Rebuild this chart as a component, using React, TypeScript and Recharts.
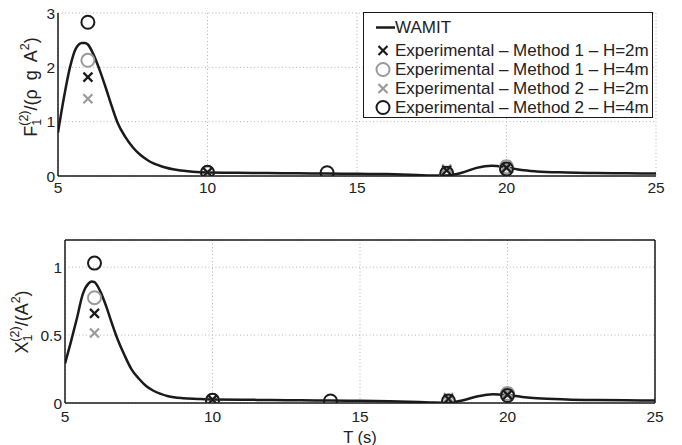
import { ComposedChart, Line, Scatter, XAxis, YAxis, CartesianGrid, ReferenceLine } from 'recharts';

// WAMIT curve, period T (s)
const wamitT = [5, 5.2, 5.4, 5.6, 5.8, 5.9, 6, 6.2, 6.4, 6.6, 6.8, 7, 7.25, 7.5, 7.75, 8, 8.5, 9, 9.5, 10, 11, 12, 13, 14, 15, 16, 17, 17.5, 18, 18.5, 19, 19.5, 20, 20.5, 21, 22, 23, 24, 25];
const wamitF = [0.8, 1.45, 2.0, 2.35, 2.45, 2.45, 2.42, 2.22, 1.94, 1.62, 1.28, 0.97, 0.72, 0.53, 0.39, 0.29, 0.17, 0.11, 0.08, 0.065, 0.06, 0.055, 0.05, 0.045, 0.04, 0.035, 0.02, 0.01, 0.01, 0.06, 0.15, 0.19, 0.16, 0.11, 0.085, 0.065, 0.055, 0.05, 0.045];
const wamitX = [0.29, 0.45, 0.62, 0.8, 0.88, 0.895, 0.89, 0.82, 0.71, 0.58, 0.46, 0.36, 0.25, 0.18, 0.125, 0.09, 0.05, 0.035, 0.03, 0.026, 0.024, 0.022, 0.02, 0.018, 0.016, 0.013, 0.007, 0.003, 0.002, 0.02, 0.05, 0.065, 0.058, 0.045, 0.035, 0.026, 0.022, 0.02, 0.018];

// experimental points
const m1h2T = [6, 10, 18, 20];
const m1h2F = [1.82, 0.07, 0.1, 0.15];
const m1h2X = [0.66, 0.025, 0.03, 0.06];

const m1h4T = [6, 10, 18, 20];
const m1h4F = [2.13, 0.06, 0.0, 0.17];
const m1h4X = [0.775, 0.02, 0.0, 0.07];

const m2h2T = [6, 10, 18, 20];
const m2h2F = [1.42, 0.07, 0.13, 0.2];
const m2h2X = [0.515, 0.025, 0.04, 0.08];

const m2h4T = [6, 10, 14, 18, 20];
const m2h4F = [2.83, 0.07, 0.06, 0.05, 0.13];
const m2h4X = [1.03, 0.02, 0.015, 0.015, 0.055];

const xTicks = [5, 10, 15, 20, 25];
const fTicks = [0, 1, 2, 3];
const xiTicks = [0, 0.5, 1];

const zip = (xs: number[], ys: number[]) => xs.map((x, i) => ({ x, y: ys[i] }));

const BLACK = '#1a1a1a';
const GRAY = '#9a9a9a';
const FONT = '"Liberation Sans", Arial, sans-serif';

function Cross({ cx, cy, color }: any) {
  const s = 4.5;
  return (
    <g stroke={color} strokeWidth={2.2}>
      <line x1={cx - s} y1={cy - s} x2={cx + s} y2={cy + s} />
      <line x1={cx - s} y1={cy + s} x2={cx + s} y2={cy - s} />
    </g>
  );
}

function Ring({ cx, cy, color }: any) {
  return <circle cx={cx} cy={cy} r={6.5} fill="none" stroke={color} strokeWidth={2} />;
}

const tickStyle = { fill: '#222', fontSize: 15.5, fontFamily: FONT };

function Panel({ top, height, margin, yTicks, yMax, curve, pts, children }: any) {
  return (
    <div style={{ position: 'absolute', left: 0, top, width: 682, height }}>
      <ComposedChart width={682} height={height} margin={margin}>
        <CartesianGrid stroke="#b5b5b5" strokeDasharray="1 2.5" />
        <XAxis dataKey="x" type="number" domain={[5, 25]} ticks={xTicks} allowDataOverflow
          tickSize={0} tickMargin={margin.tm} height={margin.xh} tick={tickStyle}
          axisLine={{ stroke: BLACK, strokeWidth: 1.5 }} />
        <YAxis type="number" domain={[0, yMax]} ticks={yTicks} allowDataOverflow width={40}
          tickSize={0} tickMargin={3} tick={tickStyle}
          axisLine={{ stroke: BLACK, strokeWidth: 1.5 }} />
        {children}
        <Line data={curve} dataKey="y" type="monotone" stroke={BLACK} strokeWidth={2.5} dot={false} isAnimationActive={false} />
        <Scatter data={pts[1]} dataKey="y" isAnimationActive={false} shape={(p: any) => <Ring cx={p.cx} cy={p.cy} color={GRAY} />} />
        <Scatter data={pts[2]} dataKey="y" isAnimationActive={false} shape={(p: any) => <Cross cx={p.cx} cy={p.cy} color={GRAY} />} />
        <Scatter data={pts[0]} dataKey="y" isAnimationActive={false} shape={(p: any) => <Cross cx={p.cx} cy={p.cy} color={BLACK} />} />
        <Scatter data={pts[3]} dataKey="y" isAnimationActive={false} shape={(p: any) => <Ring cx={p.cx} cy={p.cy} color={BLACK} />} />
      </ComposedChart>
    </div>
  );
}

function RotLabel({ x, y, main, sup2, ws }: any) {
  // main symbol with subscript 1 and superscript (2), then the denominator
  return (
    <text transform={`rotate(-90, ${x}, ${y})`} x={x} y={y} textAnchor="middle"
      fontFamily={FONT} fontSize={18} fill="#222" style={{ wordSpacing: ws }}>
      {main}
      <tspan fontSize={12.5} dy={4}>1</tspan>
      <tspan fontSize={12.5} dx={-7} dy={-13}>(2)</tspan>
      <tspan dy={9}>{sup2}</tspan>
      <tspan fontSize={12.5} dy={-8}>2</tspan>
      <tspan dy={8}>)</tspan>
    </text>
  );
}

const legendRows = [
  { label: 'WAMIT', kind: 'line', color: BLACK, top: 5 },
  { label: 'Experimental – Method 1 – H=2m', kind: 'x', color: BLACK, top: 28 },
  { label: 'Experimental – Method 1 – H=4m', kind: 'o', color: GRAY, top: 47 },
  { label: 'Experimental – Method 2 – H=2m', kind: 'x', color: GRAY, top: 66 },
  { label: 'Experimental – Method 2 – H=4m', kind: 'o', color: BLACK, top: 85 },
];

function LegendBox() {
  return (
    <div style={{ position: 'absolute', left: 363, top: 12, width: 288, height: 104, border: `1.5px solid ${BLACK}`, background: '#fff', fontFamily: FONT, fontSize: 17, color: '#222' }}>
      {legendRows.map(r => (
        <div key={r.label} style={{ position: 'absolute', left: 0, top: r.top, height: 19, lineHeight: '19px', whiteSpace: 'nowrap' }}>
          <svg width={31} height={19} style={{ verticalAlign: 'top' }}>
            {r.kind === 'line' && <line x1={12} y1={9.5} x2={31} y2={9.5} stroke={BLACK} strokeWidth={2.5} />}
            {r.kind === 'x' && <Cross cx={19} cy={9.5} color={r.color} />}
            {r.kind === 'o' && <Ring cx={19} cy={9.5} color={r.color} />}
          </svg>
          <span style={{ verticalAlign: 'top' }}>{r.label}</span>
        </div>
      ))}
    </div>
  );
}

export default function App() {
  const topPts = [zip(m1h2T, m1h2F), zip(m1h4T, m1h4F), zip(m2h2T, m2h2F), zip(m2h4T, m2h4F)];
  const botPts = [zip(m1h2T, m1h2X), zip(m1h4T, m1h4X), zip(m2h2T, m2h2X), zip(m2h4T, m2h4X)];
  return (
    <div style={{ position: 'absolute', left: 0, top: 0, width: 682, height: 445, background: '#fff', overflow: 'hidden' }}>
      <Panel top={0} height={205} margin={{ top: 13, right: 26, bottom: 5, left: 18, tm: 6, xh: 24 }}
        yTicks={fTicks} yMax={3} curve={zip(wamitT, wamitF)} pts={topPts} />
      <Panel top={205} height={240} margin={{ top: 35, right: 27, bottom: 0, left: 25, tm: 8, xh: 42 }}
        yTicks={xiTicks} yMax={1.2} curve={zip(wamitT, wamitX)} pts={botPts}>
        <ReferenceLine y={1.2} stroke={BLACK} strokeWidth={1.5} />
        <ReferenceLine x={25} stroke={BLACK} strokeWidth={1.5} />
      </Panel>
      <svg width={682} height={445} style={{ position: 'absolute', left: 0, top: 0, pointerEvents: 'none' }}>
        <RotLabel x={37} y={87} main="F" sup2="/(ρ g A" ws={4} />
        <RotLabel x={28} y={322} main="X" sup2="/(A" ws={0} />
        <text x={360} y={443} textAnchor="middle" fontFamily={FONT} fontSize={16.5} fill="#222">T (s)</text>
      </svg>
      <LegendBox />
    </div>
  );
}
